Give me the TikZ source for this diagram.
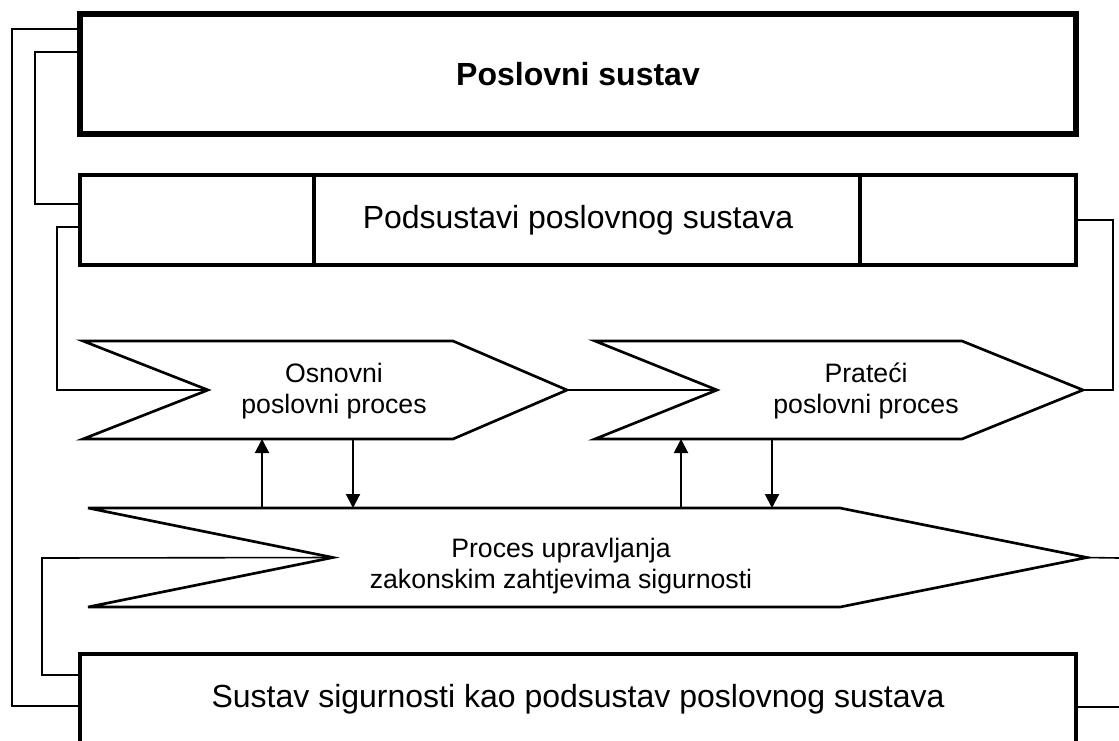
\documentclass[tikz,border=0pt]{standalone}
\usepackage{fontspec}
\setmainfont{Liberation Sans}
\usetikzlibrary{positioning,arrows.meta}
\tikzset{
    x=0.75pt, y=-0.75pt, % one unit is one pixel of the sketch, y runs down
    box/.style={draw, line width=3pt, inner sep=0pt, font=\fontsize{24}{28}\selectfont}, % system boxes
    bigbox/.style={box, line width=4pt},
    chevbox/.style={draw=none, inner sep=0pt, outer sep=0pt}, % frame of a process arrow
    chev/.style={draw, line width=2pt, line join=miter},
    chevtext/.style={align=center, inner sep=0pt, font=\fontsize{20}{23}\selectfont},
    link/.style={line width=1.2pt},
    flow/.style={line width=1.5pt, -{Triangle[length=10.5pt,width=10.5pt]}},
}

\begin{document}
\begin{tikzpicture}
    \clip (0,0) rectangle (1119,740);

    % systems
    \node[bigbox, minimum width=747pt, minimum height=90pt, font=\fontsize{24}{28}\selectfont\bfseries] (sustav) at (578,74) {Poslovni sustav};
    \node[box, minimum width=747pt, minimum height=67.5pt] (podsus) at (578,220) {Podsustavi poslovnog sustava};
    \draw[line width=3pt] (podsus.north west) ++(236,0) -- ++(0,90);
    \draw[line width=3pt] (podsus.north west) ++(782,0) -- ++(0,90);
    \node[box, minimum width=747pt, minimum height=67.5pt] (sigur) at (578,699) {Sustav sigurnosti kao podsustav poslovnog sustava};

    % processes
    \node[chevbox, minimum width=363pt, minimum height=73.5pt] (osn) at (325,390) {};
    \draw[chev] (osn.north west) -- ++(370,0) -- (osn.east) -- ++(-114,49) -- (osn.south west) -- ++(125,-49) coordinate (osn-in) -- cycle;
    \node[chevtext] (osn-t) at (334,391) {Osnovni\\poslovni proces};

    \node[chevbox, minimum width=366pt, minimum height=73.5pt] (prat) at (839,390) {};
    \draw[chev] (prat.north west) -- ++(367,0) -- (prat.east) -- ++(-121,49) -- (prat.south west) -- ++(122,-49) coordinate (prat-in) -- cycle;
    \node[chevtext] (prat-t) at (866,391) {Prateći\\poslovni proces};

    \node[chevbox, minimum width=749.25pt, minimum height=74.25pt] (upr) at (587.5,557.5) {};
    \draw[chev] (upr.north west) -- ++(752,0) -- (upr.east) -- ++(-247,49.5) -- (upr.south west) -- ++(245,-49.5) coordinate (upr-in) -- cycle;
    \node[chevtext] (upr-t) at (561,566) {Proces upravljanja\\zakonskim zahtjevima sigurnosti};

    % exchange with the management process
    \foreach \xu/\xd/\p in {262/353/osn, 681/772/prat} {
        \coordinate (up) at (\xu,0);
        \coordinate (dn) at (\xd,0);
        \draw[flow] (up |- upr.north) -- (up |- \p.south);
        \draw[flow] (dn |- \p.south) -- (dn |- upr.north);
    }

    % links
    \coordinate (rim1) at (1119,558);
    \coordinate (rim2) at (1119,707);
    \draw[link] (sustav.west |- 0,29) -- (12,29) |- (sigur.west |- 0,706);
    \draw[link] (sustav.west |- 0,52) -- (35,52) |- (podsus.west |- 0,204);
    \draw[link] (podsus.west |- 0,227) -- (57,227) |- (osn-in);
    \draw[link] (osn.east) -- (prat-in);
    \draw[link] (prat.east) -- (1113,390) |- (podsus.east |- 0,220);
    \draw[link] (upr-in) -- (42,558) |- (sigur.west |- 0,675);
    \draw[link] (upr.east) -- (rim1);
    \draw[link] (sigur.east |- 0,707) -- (rim2);
\end{tikzpicture}
\end{document}
